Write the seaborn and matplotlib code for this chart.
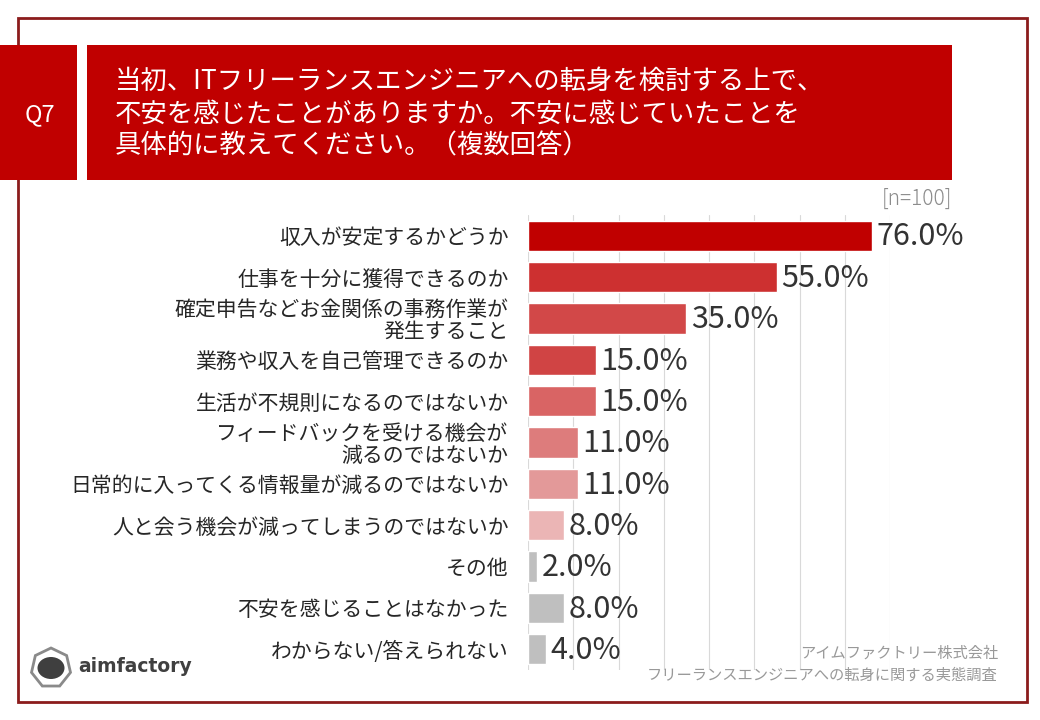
import seaborn as sns
import pandas as pd
from matplotlib import pyplot as plt
from matplotlib.patches import Rectangle, RegularPolygon, Ellipse

sns.set_style("white")
plt.rcParams['font.family'] = ['Noto Sans CJK JP', 'DejaVu Sans']

# data
categories = [
    "収入が安定するかどうか",
    "仕事を十分に獲得できるのか",
    "確定申告などお金関係の事務作業が\n発生すること",
    "業務や収入を自己管理できるのか",
    "生活が不規則になるのではないか",
    "フィードバックを受ける機会が\n減るのではないか",
    "日常的に入ってくる情報量が減るのではないか",
    "人と会う機会が減ってしまうのではないか",
    "その他",
    "不安を感じることはなかった",
    "わからない/答えられない",
]
values = [76.0, 55.0, 35.0, 15.0, 15.0, 11.0, 11.0, 8.0, 2.0, 8.0, 4.0]
bar_colors = ["#C00000", "#CD3030", "#D24848", "#D04444", "#D96464",
              "#DD7C7C", "#E39999", "#EBB5B5", "#BFBFBF", "#BFBFBF", "#BFBFBF"]

title = "当初、ITフリーランスエンジニアへの転身を検討する上で、\n不安を感じたことがありますか。不安に感じていたことを\n具体的に教えてください。（複数回答）"
source = "アイムファクトリー株式会社\nフリーランスエンジニアへの転身に関する実態調査"

df = pd.DataFrame({"item": categories, "pct": values})

fig = plt.figure(figsize=(10.4, 7.2), dpi=100)

# outer frame
fig.patches.append(Rectangle((18 / 1040, 18 / 720), 1009 / 1040, 684 / 720,
                             transform=fig.transFigure, fill=False,
                             edgecolor="#8B1C1C", linewidth=2))
# header boxes
fig.patches.append(Rectangle((0, 1 - 180 / 720), 77 / 1040, 135 / 720,
                             transform=fig.transFigure, facecolor="#C00000", edgecolor="none"))
fig.patches.append(Rectangle((87 / 1040, 1 - 180 / 720), 865 / 1040, 135 / 720,
                             transform=fig.transFigure, facecolor="#C00000", edgecolor="none"))
fig.text(40 / 1040, 1 - 115 / 720, "Q7", color="white", fontsize=17,
         ha="center", va="center")
fig.text(115 / 1040, 1 - 114 / 720, title, color="white", fontsize=19,
         ha="left", va="center", linespacing=1.25)
fig.text(952 / 1040, 1 - 199 / 720, "[n=100]", color="#8C8C8C", fontsize=15,
         ha="right", va="center", fontweight="light")

ax = fig.add_axes([528 / 1040, 1 - 670 / 720, 362 / 1040, 455 / 720])
sns.barplot(data=df, y="item", x="pct", hue="item", palette=bar_colors,
            saturation=1, legend=False, orient="h", width=0.73, ax=ax)
ax.set_xlim(0, 80)
ax.set_xticks(range(0, 81, 10))
ax.xaxis.grid(True, color="#D9D9D9", linewidth=0.8)
ax.set_axisbelow(True)
ax.tick_params(axis="x", length=0, labelbottom=False)
ax.tick_params(axis="y", length=0, pad=14)
ax.set_xlabel("")
ax.set_ylabel("")
for s in ax.spines.values():
    s.set_visible(False)
for lbl in ax.get_yticklabels():
    lbl.set_fontsize(15)
    lbl.set_color("#262626")
    lbl.set_linespacing(1.0)

for i, v in enumerate(values):
    ax.text(v + 1.0, i + 0.03, f"{v:.1f}%", va="center", ha="left",
            fontsize=22, color="#333333")

# source note
fig.text(998 / 1040, 1 - 664 / 720, source, color="#999999", fontsize=11,
         ha="right", va="center", linespacing=1.35)

# logo
fig.patches.append(RegularPolygon((0.51, 0.52), numVertices=7, radius=0.2,
                                  orientation=0, transform=fig.dpi_scale_trans,
                                  fill=False, edgecolor="#8A8A8A", linewidth=2))
fig.patches.append(Ellipse((0.51, 0.52), 0.27, 0.22, transform=fig.dpi_scale_trans,
                           facecolor="#3F3F3F", edgecolor="none"))
fig.text(78 / 1040, 1 - 667 / 720, "aimfactory", color="#404040", fontsize=13.5,
         fontweight="bold", ha="left", va="center", family=["DejaVu Sans"])

fig.savefig("out.png", dpi=100)
